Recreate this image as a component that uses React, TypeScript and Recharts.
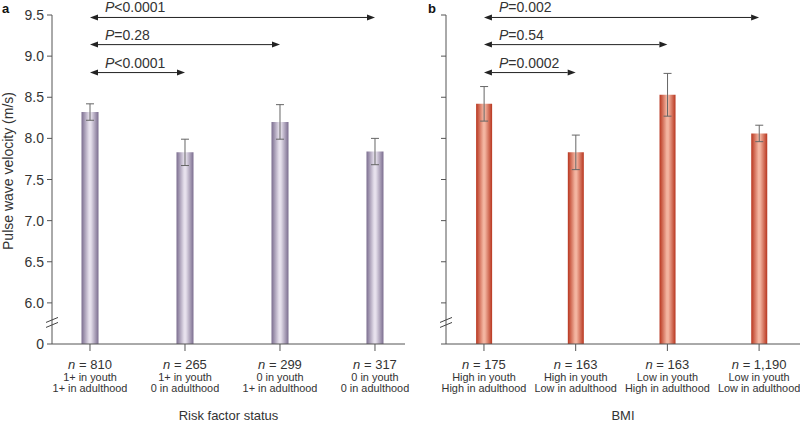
import { Bar, ComposedChart, ErrorBar, ReferenceLine, XAxis, YAxis } from "recharts"

// panel a: risk factor status
const riskN = ["810", "265", "299", "317"]
const riskYouth = ["1+ in youth", "1+ in youth", "0 in youth", "0 in youth"]
const riskAdult = ["1+ in adulthood", "0 in adulthood", "1+ in adulthood", "0 in adulthood"]
const riskPwv = [8.32, 7.83, 8.2, 7.84]
const riskErr = [0.1, 0.16, 0.21, 0.16]
const riskP = ["<0.0001", "=0.28", "<0.0001"]

// panel b: BMI
const bmiN = ["175", "163", "163", "1,190"]
const bmiYouth = ["High in youth", "High in youth", "Low in youth", "Low in youth"]
const bmiAdult = ["High in adulthood", "Low in adulthood", "High in adulthood", "Low in adulthood"]
const bmiPwv = [8.42, 7.83, 8.53, 8.06]
const bmiErr = [0.21, 0.21, 0.26, 0.1]
const bmiP = ["=0.002", "=0.54", "=0.0002"]

// comparisons are all against the first group
const arrowTo = [3, 2, 1]
const arrowLevel = [9.47, 9.14, 8.8]

const AXIS_BREAK = 5.75
const yTicks = [5.5, AXIS_BREAK, 6, 6.5, 7, 7.5, 8, 8.5, 9, 9.5]
const FONT = "'Liberation Sans', Arial, sans-serif"
const INK = "#333"

const build = (n: string[], youth: string[], adult: string[], pwv: number[], err: number[]) =>
  pwv.map((v, i) => ({ pos: i, v, e: err[i], n: n[i], youth: youth[i], adult: adult[i] }))

const riskData = build(riskN, riskYouth, riskAdult, riskPwv, riskErr)
const bmiData = build(bmiN, bmiYouth, bmiAdult, bmiPwv, bmiErr)

const fmtY = (v: number) => (v === 5.5 ? "0" : v.toFixed(1))

function makeYTick(showLabel: boolean) {
  return (props: any) => {
    const { x, y, payload } = props
    const ax = x + 8 // tickSize + tickMargin
    if (payload.value === AXIS_BREAK) {
      return (
        <g stroke="#444" strokeWidth={1}>
          <line x1={ax - 6} y1={y - 1} x2={ax + 6} y2={y - 6} />
          <line x1={ax - 6} y1={y + 4} x2={ax + 6} y2={y - 1} />
        </g>
      )
    }
    return (
      <g>
        <line x1={ax - 5} y1={y} x2={ax} y2={y} stroke="#555" />
        {showLabel && (
          <text x={x} y={y} dy={5} textAnchor="end" fontSize={14} fontFamily={FONT} fill={INK}>
            {fmtY(payload.value)}
          </text>
        )}
      </g>
    )
  }
}

function makeXTick(data: any[]) {
  return (props: any) => {
    const { x, y, payload } = props
    const d = data[payload.value]
    if (!d) return <g />
    return (
      <g transform={`translate(${x},${y})`} fontFamily={FONT} fill={INK} textAnchor="middle">
        <text y={18} fontSize={13}>
          <tspan fontStyle="italic">n</tspan>
          <tspan> = {d.n}</tspan>
        </text>
        <text y={29.5} fontSize={10.9}>{d.youth}</text>
        <text y={41} fontSize={10.9}>{d.adult}</text>
      </g>
    )
  }
}

function arrowShape(p: string) {
  return (props: any) => {
    const { x1, y1, x2, y2 } = props
    const h = 8
    const w = 3
    return (
      <g>
        <line x1={x1 + h} y1={y1} x2={x2 - h} y2={y2} stroke="#222" strokeWidth={1} />
        <polygon points={`${x1},${y1} ${x1 + h},${y1 - w} ${x1 + h},${y1 + w}`} fill="#222" />
        <polygon points={`${x2},${y2} ${x2 - h},${y2 - w} ${x2 - h},${y2 + w}`} fill="#222" />
        <text x={x1 + 15} y={y1 - 5} fontSize={14} fontFamily={FONT} fill={INK}>
          <tspan fontStyle="italic">P</tspan>
          <tspan>{p}</tspan>
        </text>
      </g>
    )
  }
}

type PanelProps = {
  id: string
  data: any[]
  pLabels: string[]
  title: string
  edge: string
  mid: string
  width: number
  marginLeft: number
  marginRight: number
  xDomain: [number, number]
  barSize: number
  showYLabels: boolean
}

function Panel(props: PanelProps) {
  const { id, data, pLabels, title, edge, mid, width, marginLeft, marginRight, xDomain, barSize, showYLabels } = props
  return (
    <ComposedChart
      width={width}
      height={422}
      data={data}
      margin={{ top: 15, right: marginRight, left: marginLeft, bottom: 0 }}
    >
      <defs>
        <linearGradient id={id} x1="0" y1="0" x2="1" y2="0">
          <stop offset="0%" stopColor={edge} />
          <stop offset="45%" stopColor={mid} />
          <stop offset="55%" stopColor={mid} />
          <stop offset="100%" stopColor={edge} />
        </linearGradient>
      </defs>
      <XAxis
        dataKey="pos"
        type="number"
        domain={xDomain}
        allowDataOverflow
        ticks={[0, 1, 2, 3]}
        interval={0}
        height={78}
        tickSize={7}
        tickMargin={0}
        stroke="#555"
        tick={makeXTick(data)}
        label={{ value: title, position: "insideBottom", offset: 2, fontSize: 13, fill: INK, fontFamily: FONT }}
      />
      <YAxis
        type="number"
        domain={[5.5, 9.5]}
        ticks={yTicks}
        interval={0}
        width={40}
        tickSize={5}
        tickMargin={3}
        tickLine={false}
        stroke="#555"
        tick={makeYTick(showYLabels)}
      />
      <Bar dataKey="v" fill={`url(#${id})`} barSize={barSize} isAnimationActive={false}>
        <ErrorBar dataKey="e" width={4} stroke="#666" strokeWidth={1} direction="y" />
      </Bar>
      {pLabels.map((p, i) => (
        <ReferenceLine
          key={i}
          segment={[
            { x: 0, y: arrowLevel[i] },
            { x: arrowTo[i], y: arrowLevel[i] },
          ]}
          ifOverflow="visible"
          shape={arrowShape(p)}
        />
      ))}
    </ComposedChart>
  )
}

export default function App() {
  return (
    <div style={{ position: "absolute", left: 0, top: 0, width: 800, height: 422, background: "#fff" }}>
      <div style={{ position: "absolute", left: 0, top: 0 }}>
        <Panel
          id="gradA"
          data={riskData}
          pLabels={riskP}
          title="Risk factor status"
          edge="#7b6d8f"
          mid="#e6e0ec"
          width={410}
          marginLeft={12}
          marginRight={5}
          xDomain={[-0.4, 3.316]}
          barSize={17}
          showYLabels
        />
      </div>
      <div style={{ position: "absolute", left: 400, top: 0 }}>
        <Panel
          id="gradB"
          data={bmiData}
          pLabels={bmiP}
          title="BMI"
          edge="#b8361f"
          mid="#f3b4a0"
          width={400}
          marginLeft={6}
          marginRight={0}
          xDomain={[-0.414, 3.446]}
          barSize={16}
          showYLabels={false}
        />
      </div>
      <svg width={800} height={422} style={{ position: "absolute", left: 0, top: 0, pointerEvents: "none" }}>
        <g fontFamily={FONT} fill={INK}>
          <text x={2} y={13} fontSize={13} fontWeight="bold" fill="#111">a</text>
          <text x={428} y={13} fontSize={13} fontWeight="bold" fill="#111">b</text>
          <text transform="translate(13,171) rotate(-90)" textAnchor="middle" fontSize={14}>
            Pulse wave velocity (m/s)
          </text>
        </g>
      </svg>
    </div>
  )
}
